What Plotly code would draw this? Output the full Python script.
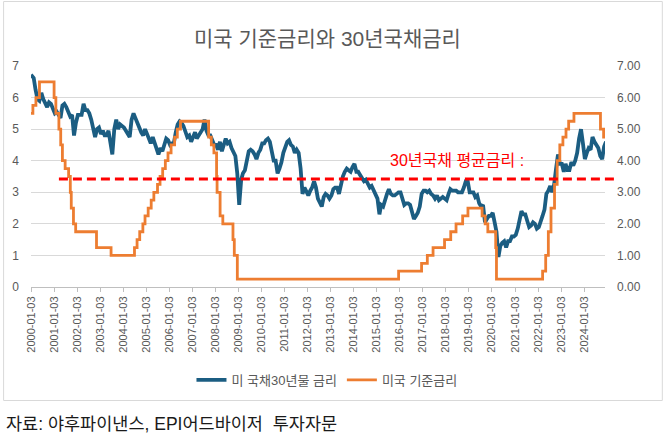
import pandas as pd
import plotly.graph_objects as go

# ---------------- data ----------------
chart_title = "미국 기준금리와 30년국채금리"
source_text = "자료: 야후파이낸스, EPI어드바이저 \u00a0투자자문"
avg_label = "30년국채 평균금리 :"
avg_30y = 3.42

# US 30-year treasury yield, first trading day then monthly readings (2000-01 .. 2024-11)
ust30_first_date = "2000-01-03"
ust30_first_value = 6.72
ust30_monthly = [
    6.62, 6.25, 5.95, 5.9, 6.15, 5.95, 5.8, 5.7, 5.85, 5.8, 5.65, 5.5,      # 2000
    5.55, 5.45, 5.35, 5.75, 5.8, 5.7, 5.55, 5.4, 5.45, 4.8, 5.2, 5.45,      # 2001
    5.45, 5.45, 5.8, 5.6, 5.6, 5.5, 5.3, 5.0, 4.75, 5.0, 5.05, 4.85,       # 2002
    4.95, 4.8, 4.8, 4.95, 4.5, 4.2, 5.0, 5.3, 5.0, 5.15, 5.1, 5.05,        # 2003
    4.95, 4.85, 4.75, 5.3, 5.5, 5.35, 5.2, 5.0, 4.9, 4.8, 5.0, 4.85,       # 2004
    4.65, 4.55, 4.75, 4.55, 4.35, 4.2, 4.4, 4.3, 4.5, 4.7, 4.65, 4.5,      # 2005
    4.55, 4.55, 4.9, 5.15, 5.25, 5.2, 5.1, 4.9, 4.75, 4.8, 4.6, 4.75,      # 2006
    4.9, 4.7, 4.8, 4.85, 5.0, 5.3, 4.95, 4.8, 4.8, 4.65, 4.5, 4.5,         # 2007
    4.35, 4.6, 4.3, 4.5, 4.7, 4.55, 4.6, 4.4, 4.3, 4.15, 3.6, 2.6,         # 2008
    3.4, 3.6, 3.7, 4.0, 4.3, 4.35, 4.3, 4.2, 4.05, 4.25, 4.35, 4.55,       # 2009
    4.55, 4.65, 4.7, 4.6, 4.25, 4.0, 4.0, 3.6, 3.75, 3.95, 4.25, 4.4,      # 2010
    4.6, 4.65, 4.5, 4.45, 4.25, 4.35, 4.25, 3.75, 2.95, 3.15, 3.0, 2.9,    # 2011
    3.05, 3.15, 3.35, 3.15, 2.8, 2.7, 2.55, 2.85, 2.95, 2.9, 2.8, 2.9,     # 2012
    3.1, 3.15, 3.15, 2.95, 3.25, 3.5, 3.65, 3.75, 3.7, 3.65, 3.8, 3.9,     # 2013
    3.65, 3.65, 3.55, 3.45, 3.35, 3.4, 3.3, 3.15, 3.2, 3.05, 2.95, 2.8,    # 2014
    2.3, 2.6, 2.55, 2.8, 2.95, 3.1, 2.95, 2.9, 2.9, 2.95, 3.0, 3.0,        # 2015
    2.8, 2.6, 2.65, 2.65, 2.6, 2.35, 2.15, 2.25, 2.35, 2.55, 2.95, 3.05,   # 2016
    3.05, 3.0, 3.05, 2.95, 2.9, 2.8, 2.9, 2.75, 2.8, 2.85, 2.8, 2.75,      # 2017
    2.95, 3.1, 3.05, 3.05, 3.05, 3.0, 3.0, 3.0, 3.15, 3.35, 3.35, 3.0,     # 2018
    3.0, 3.0, 2.85, 2.9, 2.65, 2.55, 2.6, 2.05, 2.15, 2.25, 2.25, 2.35,    # 2019
    2.05, 1.75, 0.95, 1.3, 1.4, 1.45, 1.25, 1.45, 1.45, 1.6, 1.6, 1.65,    # 2020
    1.85, 2.15, 2.4, 2.3, 2.3, 2.1, 1.9, 1.95, 2.05, 2.0, 1.85, 1.9,       # 2021
    2.15, 2.25, 2.45, 2.95, 3.05, 3.2, 3.0, 3.25, 3.75, 4.2, 3.9, 3.9,     # 2022
    3.65, 3.9, 3.7, 3.7, 3.95, 3.85, 4.0, 4.25, 4.7, 5.0, 4.55, 4.05,      # 2023
    4.25, 4.4, 4.35, 4.75, 4.6, 4.5, 4.4, 4.15, 4.05, 4.45, 4.6,           # 2024
]

# Fed funds target rate (upper bound) change dates and levels
fed_dates = [
    "2000-01-03", "2000-02-02", "2000-03-21", "2000-05-16", "2001-01-03", "2001-01-31",
    "2001-03-20", "2001-04-18", "2001-05-15", "2001-06-27", "2001-08-21", "2001-09-17",
    "2001-10-02", "2001-11-06", "2001-12-11", "2002-11-06", "2003-06-25", "2004-06-30",
    "2004-08-10", "2004-09-21", "2004-11-10", "2004-12-14", "2005-02-02", "2005-03-22",
    "2005-05-03", "2005-06-30", "2005-08-09", "2005-09-20", "2005-11-01", "2005-12-13",
    "2006-01-31", "2006-03-28", "2006-05-10", "2006-06-29", "2007-09-18", "2007-10-31",
    "2007-12-11", "2008-01-22", "2008-01-30", "2008-03-18", "2008-04-30", "2008-10-08",
    "2008-10-29", "2008-12-16", "2015-12-16", "2016-12-14", "2017-03-15", "2017-06-14",
    "2017-12-13", "2018-03-21", "2018-06-13", "2018-09-26", "2018-12-19", "2019-07-31",
    "2019-09-18", "2019-10-30", "2020-03-03", "2020-03-15", "2022-03-16", "2022-05-04",
    "2022-06-15", "2022-07-27", "2022-09-21", "2022-11-02", "2022-12-14", "2023-02-01",
    "2023-03-22", "2023-05-03", "2023-07-26", "2024-09-18", "2024-11-07", "2024-11-29",
]
fed_rates = [
    5.5, 5.75, 6.0, 6.5, 6.0, 5.5,
    5.0, 4.5, 4.0, 3.75, 3.5, 3.0,
    2.5, 2.0, 1.75, 1.25, 1.0, 1.25,
    1.5, 1.75, 2.0, 2.25, 2.5, 2.75,
    3.0, 3.25, 3.5, 3.75, 4.0, 4.25,
    4.5, 4.75, 5.0, 5.25, 4.75, 4.5,
    4.25, 3.5, 3.0, 2.25, 2.0, 1.5,
    1.0, 0.25, 0.5, 0.75, 1.0, 1.25,
    1.5, 1.75, 2.0, 2.25, 2.5, 2.25,
    2.0, 1.75, 1.25, 0.25, 0.5, 1.0,
    1.75, 2.5, 3.25, 4.0, 4.5, 4.75,
    5.0, 5.25, 5.5, 5.0, 4.75, 4.75,
]

x_tick_labels = [f"{y}-01-03" for y in range(2000, 2025)]
y_left_ticks = [0, 1, 2, 3, 4, 5, 6, 7]

series_names = ["미 국채30년물 금리", "미국 기준금리"]

# ---------------- figure ----------------
monthly_dates = pd.date_range("2000-01-15", periods=len(ust30_monthly), freq="MS") + pd.Timedelta(days=14)
ust_dates = [pd.Timestamp(ust30_first_date)] + list(monthly_dates)
ust_values = [ust30_first_value] + ust30_monthly

FONT = "Liberation Sans, Noto Sans CJK KR, sans-serif"
GRAY = "#595959"

fig = go.Figure()
fig.add_trace(go.Scatter(
    x=ust_dates, y=ust_values, mode="lines", name=series_names[0],
    line=dict(color="#1b5d82", width=3.8),
))
fig.add_trace(go.Scatter(
    x=fed_dates, y=fed_rates, mode="lines", name=series_names[1], yaxis="y2",
    line=dict(color="#ed7d31", width=2.8, shape="hv"),
))

# plot area geometry (pixels) used for paper-referenced positions
L, R, T, B = 29, 605, 66, 287
PW, PH = R - L, B - T


def px_x(px):
    return (px - L) / PW


def px_y(py):
    return (B - py) / PH


fig.update_layout(
    width=664, height=443,
    margin=dict(l=L, r=664 - R, t=T, b=443 - B, pad=0),
    paper_bgcolor="white", plot_bgcolor="white",
    font=dict(family=FONT, color=GRAY),
    showlegend=True,
    legend=dict(orientation="h", x=px_x(326), xanchor="center", y=px_y(380), yanchor="middle",
                font=dict(size=13, color=GRAY), itemwidth=30, tracegroupgap=0),
    xaxis=dict(
        type="date", range=["2000-01-03", "2024-11-29"],
        tickvals=x_tick_labels, ticktext=x_tick_labels, tickangle=-90,
        tickfont=dict(size=11, color=GRAY),
        showgrid=False, showline=True, linecolor="#bfbfbf", linewidth=1,
        ticks="outside", ticklen=4, tickcolor="#bfbfbf", zeroline=False,
    ),
    yaxis=dict(
        range=[0, 7], tickvals=y_left_ticks, showgrid=True, gridcolor="#d9d9d9", gridwidth=1,
        zeroline=False, showline=False, tickfont=dict(size=12, color=GRAY),
        ticklabelstandoff=11,
    ),
    yaxis2=dict(
        range=[0, 7], tickvals=y_left_ticks, overlaying="y", side="right",
        tickformat=".2f", ticksuffix="%", showgrid=False, zeroline=False, showline=False,
        tickfont=dict(size=12, color=GRAY), ticklabelstandoff=11,
    ),
    shapes=[
        dict(type="line", xref="paper", yref="y", x0=px_x(57), x1=px_x(615), y0=avg_30y, y1=avg_30y,
             line=dict(color="#ff0000", width=3, dash="9px,5px"), layer="above"),
        dict(type="rect", xref="paper", yref="paper", x0=px_x(1.5), x1=px_x(662.5),
             y0=px_y(400.5), y1=px_y(1.5), line=dict(color="#d9d9d9", width=1), layer="below"),
    ],
    annotations=[
        dict(text=chart_title, xref="paper", yref="paper", x=px_x(327), y=px_y(38),
             xanchor="center", yanchor="middle", showarrow=False,
             font=dict(size=21, color=GRAY)),
        dict(text=avg_label, xref="paper", yref="y", x=px_x(456), y=4.02,
             xanchor="center", yanchor="middle", showarrow=False,
             font=dict(size=16, color="#ff0000")),
        dict(text=source_text, xref="paper", yref="paper", x=px_x(2), y=px_y(424),
             xanchor="left", yanchor="middle", showarrow=False,
             font=dict(size=17.5, color="#1a1a1a")),
    ],
)

fig.write_html("out.html", config={"displayModeBar": False},
               post_script="document.body.style.margin='0px';")
